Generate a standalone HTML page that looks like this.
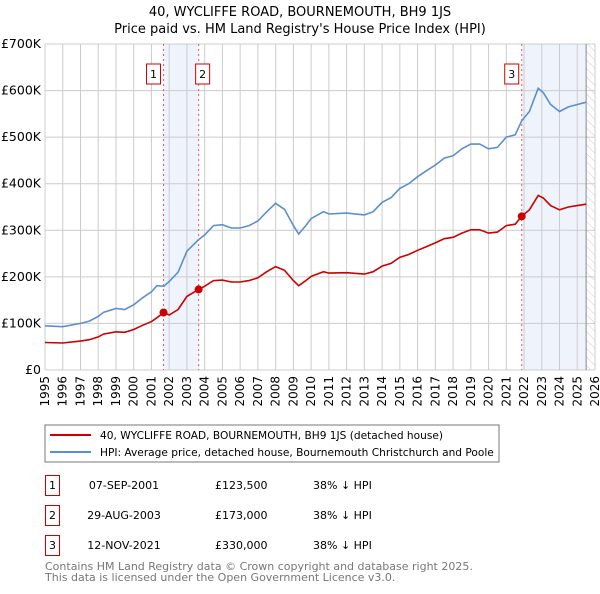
<!DOCTYPE html>
<html><head><meta charset="utf-8"><style>
body{margin:0;background:#fff;width:600px;height:590px;overflow:hidden;font-family:"DejaVu Sans","Liberation Sans",sans-serif}
text{font-family:"DejaVu Sans","Liberation Sans",sans-serif}
</style></head><body>
<svg id="c" width="600" height="590" xmlns="http://www.w3.org/2000/svg">
<defs><pattern id="hatch" width="6" height="6" patternUnits="userSpaceOnUse" patternTransform="rotate(-45)"><line x1="0" y1="0" x2="0" y2="6" stroke="#ccc" stroke-width="1"/></pattern></defs>
<text x="300" y="16" text-anchor="middle" font-size="13" fill="#000">40, WYCLIFFE ROAD, BOURNEMOUTH, BH9 1JS</text>
<text x="300" y="33" text-anchor="middle" font-size="13" fill="#000">Price paid vs. HM Land Registry's House Price Index (HPI)</text>
<g id="plot"></g>
<rect x="45" y="425" width="454" height="37" fill="#fff" stroke="#777"/>
<line x1="50" y1="435" x2="91" y2="435" stroke="#cc0000" stroke-width="2"/>
<text x="100" y="439" font-size="10.6">40, WYCLIFFE ROAD, BOURNEMOUTH, BH9 1JS (detached house)</text>
<line x1="50" y1="452" x2="91" y2="452" stroke="#5b8fd0" stroke-width="2"/>
<text x="100" y="456" font-size="10.6">HPI: Average price, detached house, Bournemouth Christchurch and Poole</text>
<g font-size="11">
<rect x="45.5" y="475.5" width="14" height="20" fill="#fff" stroke="#cc0000"/><text x="52.5" y="489" text-anchor="middle">1</text>
<text x="124" y="489" text-anchor="middle">07-SEP-2001</text><text x="215" y="489">£123,500</text><text x="313" y="489">38% ↓ HPI</text>
<rect x="45.5" y="505.5" width="14" height="20" fill="#fff" stroke="#cc0000"/><text x="52.5" y="519" text-anchor="middle">2</text>
<text x="124" y="519" text-anchor="middle">29-AUG-2003</text><text x="215" y="519">£173,000</text><text x="313" y="519">38% ↓ HPI</text>
<rect x="45.5" y="535.5" width="14" height="20" fill="#fff" stroke="#cc0000"/><text x="52.5" y="549" text-anchor="middle">3</text>
<text x="124" y="549" text-anchor="middle">12-NOV-2021</text><text x="215" y="549">£330,000</text><text x="313" y="549">38% ↓ HPI</text>
</g>
<text x="45" y="570" font-size="11" fill="#777">Contains HM Land Registry data © Crown copyright and database right 2025.</text>
<text x="45" y="581" font-size="11" fill="#777">This data is licensed under the Open Government Licence v3.0.</text>
</svg>
<script>
const hpiYears=[1995,1996,1997,1997.5,1998,1998.3,1999,1999.5,2000,2000.5,2001,2001.3,2001.7,2002,2002.5,2003,2003.66,2004,2004.5,2005,2005.5,2006,2006.5,2007,2007.5,2008,2008.5,2009,2009.3,2009.7,2010,2010.7,2011,2012,2013,2013.5,2014,2014.5,2015,2015.5,2016,2016.5,2017,2017.5,2018,2018.5,2019,2019.5,2020,2020.5,2021,2021.5,2021.87,2022.3,2022.8,2023.1,2023.5,2024,2024.5,2025,2025.5];
const hpiValues=[95,93,100,105,115,124,132,130,140,155,168,181,180,190,210,255,280,290,310,312,305,305,310,320,340,358,345,310,292,310,325,340,335,337,333,340,360,370,390,400,415,428,440,455,460,475,485,485,475,478,500,505,535,555,605,595,570,555,565,570,575];
const propValues=[59,58,62,65,71,77,82,81,87,96,104,112,123.5,118,130,158,173,180,192,193,189,189,192,198,211,222,214,192,181,192,201,211,208,209,206,211,223,229,242,248,257,265,273,282,285,294,301,301,294,296,310,313,330,344,375,369,353,344,350,353,356];
const saleYears=[2001.68,2003.66,2021.87];
const saleValues=[123.5,173,330];
const saleLabels=["1","2","3"];
const yTicks=[0,100,200,300,400,500,600,700];
const yTickLabels=["£0","£100K","£200K","£300K","£400K","£500K","£600K","£700K"];
const xTicks=[];for(let y=1995;y<=2026;y++)xTicks.push(y);
const X0=45,X1=595,Y0=370,Y1=44;
const xs=v=>X0+(v-1995)*(X1-X0)/31;
const ys=v=>Y0-v*(Y0-Y1)/700;
const NS="http://www.w3.org/2000/svg";
const g=document.getElementById('plot');
function mk(t,a){const e=document.createElementNS(NS,t);for(const k in a)e.setAttribute(k,a[k]);g.appendChild(e);return e;}
let e;
e=mk('rect',{x:xs(saleYears[0]),y:Y1,width:xs(saleYears[1])-xs(saleYears[0]),height:Y0-Y1,fill:'#eef3fc'});


e=mk('rect',{x:xs(saleYears[2]),y:Y1,width:xs(2025.5)-xs(saleYears[2]),height:Y0-Y1,fill:'#eef3fc'});


e=mk('rect',{x:xs(2025.5),y:Y1,width:X1-xs(2025.5),height:Y0-Y1,fill:'url(#hatch)'});


xTicks.forEach(t=>{e=mk('line',{x1:xs(t),x2:xs(t),y1:Y1,y2:Y0,stroke:'#ccc'});


e=mk('text',{x:0,y:0,'font-size':12,'text-anchor':'end',transform:`translate(${xs(t)+4},${Y0+6}) rotate(-90)`});e.textContent=t;

});
yTicks.forEach((t,i)=>{e=mk('line',{x1:X0,x2:X1,y1:ys(t),y2:ys(t),stroke:'#ccc'});


e=mk('text',{x:X0-4,y:ys(t)+4,'font-size':12.5,'text-anchor':'end'});e.textContent=yTickLabels[i];

});
e=mk('line',{x1:xs(2025.5),x2:xs(2025.5),y1:Y1,y2:Y0,stroke:'#888'});


saleYears.forEach((s,i)=>{e=mk('line',{x1:xs(s),x2:xs(s),y1:Y1,y2:Y0,stroke:'#e55','stroke-dasharray':'2,3'});

});
function path(vals){return vals.map((v,i)=>(i?'L':'M')+xs(hpiYears[i]).toFixed(1)+','+ys(v).toFixed(1)).join('');}
e=mk('path',{d:path(hpiValues),fill:'none',stroke:'#5b8fd0','stroke-width':1.6});


e=mk('path',{d:path(propValues),fill:'none',stroke:'#cc0000','stroke-width':1.6});


saleYears.forEach((s,i)=>{e=mk('circle',{cx:xs(s),cy:ys(saleValues[i]),r:4,fill:'#cc0000'});


const bx=xs(s)-(i==1?-4:10);
e=mk('rect',{x:bx-7,y:64,width:14,height:20,fill:'#fff',stroke:'#cc0000'});


e=mk('text',{x:bx,y:78,'font-size':11,'text-anchor':'middle'});e.textContent=saleLabels[i];

});
</script>
</body></html>
